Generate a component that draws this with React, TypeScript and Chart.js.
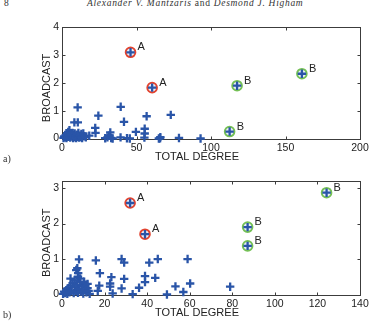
import React, { useEffect, useRef } from "react";
import { Chart, registerables } from "chart.js";
Chart.register(...registerables);

// ---------- data ----------
const xTicksA = [0, 50, 100, 150, 200];
const yTicksA = [0, 1, 2, 3, 4];
const xTicksB = [0, 20, 40, 60, 80, 100, 120, 140];
const yTicksB = [0, 1, 2, 3];

const groupA_a = [
  { x: 46, y: 3.1 },
  { x: 60.5, y: 1.83 },
];
const groupB_a = [
  { x: 117.5, y: 1.9 },
  { x: 161, y: 2.33 },
  { x: 112.5, y: 0.25 },
];
const others_a = [
  [1, 0.02], [1.5, 0.08], [2, 0.04], [2.5, 0.12], [3, 0.02], [3.5, 0.18], [4, 0.06], [4.2, 0.24],
  [4.8, 0.1], [5, 0.3], [5.5, 0.03], [6, 0.15], [6.5, 0.07], [7, 0.2], [7.5, 0.02], [7.6, 0.12],
  [8, 0.05], [8.5, 0.18], [9, 0.09], [9.5, 0.02], [10, 0.14], [10.5, 0.06], [11, 0.2], [11.5, 0.03],
  [12, 0.1], [12.5, 0.05], [13, 0.16], [13.5, 0.02], [14.3, 0.18], [15, 0.08], [16, 0.04], [18.3, 0.1],
  [8.3, 0.58], [10.6, 0.58], [10.5, 1.12], [24.4, 0.82], [22.3, 0.38], [22.5, 0.2], [39.4, 1.14],
  [41.6, 0.6], [56.8, 0.8], [55.5, 0.35], [55.5, 0.18], [49.6, 0.24], [73, 0.85], [78.5, 0.02],
  [65.8, 0.01], [66, 0.05], [55.3, 0.03], [43.6, 0.01], [45.5, 0.0], [39.3, 0.04], [32.4, 0.22],
  [31.6, 0.1], [29, 0.01], [30.5, 0.04], [33, 0.02], [93, 0.0], [34, 0.0], [65, 0.0],
];

const groupA_b = [
  { x: 32, y: 2.58 },
  { x: 39, y: 1.7 },
];
const groupB_b = [
  { x: 124.3, y: 2.87 },
  { x: 87.2, y: 1.9 },
  { x: 87.2, y: 1.37 },
];
const others_b = [
  [8, 0.99], [15.9, 0.96], [28, 1.0], [29.2, 0.9], [41, 0.9], [45, 1.0], [59, 1.0], [6.7, 0.69],
  [7.5, 0.5], [8.5, 0.45], [17.8, 0.6], [23.2, 0.49], [29.2, 0.44], [39, 0.52], [39, 0.35],
  [43.8, 0.47], [36.2, 0.19], [33.2, 0.01], [28, 0.17], [22.6, 0.31], [22.6, 0.22], [23.8, 0.03],
  [17.5, 0.25], [16.8, 0.1], [10.3, 0.3], [4, 0.45], [49.3, 0.0], [53.3, 0.23], [57, 0.07],
  [60.2, 0.31], [79, 0.22],
  [0.5, 0.02], [1, 0.08], [1.5, 0.04], [2, 0.12], [2.5, 0.02], [3, 0.18], [3.5, 0.06], [4, 0.25],
  [4.5, 0.1], [5, 0.32], [5.5, 0.04], [6, 0.2], [6.5, 0.1], [7, 0.28], [7.5, 0.05], [8, 0.15],
  [8.5, 0.35], [9, 0.08], [9.5, 0.22], [10, 0.03], [10.5, 0.14], [11, 0.25], [11.5, 0.06],
  [12, 0.18], [12.5, 0.1], [13, 0.02], [7.2, 0.74], [7.6, 0.6], [10.4, 0.36], [12, 0.3], [6, 0.4],
];

// ---------- styling ----------
const BLUE = "#2a55a8";
const RED = "#e2432f";
const GREEN = "#74c055";
const AXIS = "#3c3c3c";
const FONT = "'Liberation Sans', Arial, sans-serif";

const framePlugin = {
  id: "frame",
  beforeDatasetsDraw(chart: any, _args: any, opts: any) {
    const { ctx, chartArea: a, scales } = chart;
    const x = scales.x;
    const y = scales.y;
    ctx.save();
    ctx.strokeStyle = AXIS;
    ctx.lineWidth = 1;
    const L = Math.round(a.left) + 0.5;
    const R = Math.round(a.right) + 0.5;
    const T = Math.round(a.top) + 0.5;
    const B = Math.round(a.bottom) + 0.5;
    ctx.strokeRect(L, T, R - L, B - T);
    const tl = 3;
    ctx.beginPath();
    x.ticks.forEach((t: any) => {
      const px = Math.round(x.getPixelForValue(t.value)) + 0.5;
      ctx.moveTo(px, B);
      ctx.lineTo(px, B - tl);
      ctx.moveTo(px, T);
      ctx.lineTo(px, T + tl);
    });
    y.ticks.forEach((t: any) => {
      const py = Math.round(y.getPixelForValue(t.value)) + 0.5;
      ctx.moveTo(L, py);
      ctx.lineTo(L + tl, py);
      ctx.moveTo(R, py);
      ctx.lineTo(R - tl, py);
    });
    ctx.stroke();
    ctx.restore();
  },
  afterDatasetsDraw(chart: any, _args: any, opts: any) {
    const { ctx, chartArea: a } = chart;
    ctx.save();
    ctx.fillStyle = "#222";
    ctx.font = `11px ${FONT}`;
    ctx.textBaseline = "middle";
    ctx.textAlign = "left";
    chart.data.datasets.forEach((ds: any, i: number) => {
      if (!ds.tag) return;
      const meta = chart.getDatasetMeta(i);
      meta.data.forEach((el: any) => {
        ctx.fillText(ds.tag, el.x + 7, el.y - 5);
      });
    });
    // axis titles
    ctx.font = `11px ${FONT}`;
    ctx.textAlign = "center";
    ctx.fillText("TOTAL DEGREE", (a.left + a.right) / 2 + opts.xdx, a.bottom + opts.xdy);
    ctx.translate(opts.yx, (a.top + a.bottom) / 2 + opts.ydy);
    ctx.rotate(-Math.PI / 2);
    ctx.fillText("BROADCAST", 0, 0);
    ctx.restore();
  },
};

function makeConfig(
  others: number[][],
  gA: { x: number; y: number }[],
  gB: { x: number; y: number }[],
  xTicks: number[],
  yTicks: number[],
  pad: { top: number; right: number },
  xHeight: number,
  titles: any
): any {
  const all = [...others.map(([x, y]) => ({ x, y })), ...gA, ...gB];
  return {
    type: "scatter",
    data: {
      datasets: [
        {
          data: all,
          pointStyle: "cross",
          pointRadius: 4.2,
          pointBorderWidth: 2.3,
          borderColor: BLUE,
          backgroundColor: BLUE,
          clip: false,
          order: 0,
        },
        {
          tag: "A",
          data: gA,
          pointStyle: "circle",
          pointRadius: 4.8,
          pointBorderWidth: 2,
          borderColor: RED,
          backgroundColor: "#e9eef8",
          clip: false,
          order: 1,
        },
        {
          tag: "B",
          data: gB,
          pointStyle: "circle",
          pointRadius: 4.8,
          pointBorderWidth: 2,
          borderColor: GREEN,
          backgroundColor: "#e9eef8",
          clip: false,
          order: 1,
        },
      ],
    },
    options: {
      animation: false,
      responsive: false,
      devicePixelRatio: 1,
      layout: { padding: { left: 0, top: pad.top, right: pad.right, bottom: 0 } },
      plugins: {
        legend: { display: false },
        tooltip: { enabled: false },
        frame: titles,
      },
      scales: {
        x: {
          type: "linear",
          min: xTicks[0],
          max: xTicks[xTicks.length - 1],
          grid: { display: false, drawTicks: false },
          border: { display: false },
          afterBuildTicks: (s: any) => {
            s.ticks = xTicks.map((v) => ({ value: v }));
          },
          afterFit: (s: any) => {
            s.height = xHeight;
          },
          ticks: {
            padding: 3,
            color: "#222",
            font: { family: FONT, size: 10.5 },
            maxRotation: 0,
            autoSkip: false,
          },
        },
        y: {
          type: "linear",
          min: yTicks[0],
          max: titles.ymax,
          grid: { display: false, drawTicks: false },
          border: { display: false },
          afterBuildTicks: (s: any) => {
            s.ticks = yTicks.map((v) => ({ value: v }));
          },
          afterFit: (s: any) => {
            s.width = 62;
          },
          ticks: {
            padding: 3,
            color: "#222",
            font: { family: FONT, size: 10.5 },
            autoSkip: false,
          },
        },
      },
    },
    plugins: [framePlugin],
  };
}

function ChartCanvas({ config, width, height }: { config: any; width: number; height: number }) {
  const ref = useRef<HTMLCanvasElement | null>(null);
  useEffect(() => {
    if (!ref.current) return;
    const chart = new Chart(ref.current, config);
    return () => chart.destroy();
  }, [config]);
  return <canvas ref={ref} width={width} height={height} style={{ display: "block", width, height }} />;
}

const configA = makeConfig(others_a, groupA_a, groupB_a, xTicksA, yTicksA, { top: 8, right: 14 }, 26.5, {
  xdx: -14,
  xdy: 18,
  yx: 47,
  ydy: 5,
  ymax: 4,
});
const configB = makeConfig(others_b, groupA_b, groupB_b, xTicksB, yTicksB, { top: 11, right: 14 }, 30.5, {
  xdx: -14,
  xdy: 18,
  yx: 47,
  ydy: 5,
  ymax: 3.2,
});

export default function App() {
  const serif = "'Liberation Serif', 'DejaVu Serif', serif";
  return (
    <div
      style={{
        position: "fixed",
        left: 0,
        top: 0,
        width: 374,
        height: 325,
        background: "#fff",
        overflow: "hidden",
        fontFamily: serif,
        color: "#333",
      }}
    >
      <div style={{ position: "absolute", left: 4, top: -2, fontSize: 9.5, lineHeight: "10px" }}>8</div>
      <div
        style={{
          position: "absolute",
          left: 87,
          top: -2,
          fontSize: 9.5,
          lineHeight: "10px",
          whiteSpace: "nowrap",
          letterSpacing: "0.7px",
        }}
      >
        <i>Alexander V. Mantzaris</i> and <i>Desmond J. Higham</i>
      </div>
      <div style={{ position: "absolute", left: 0, top: 18 }}>
        <ChartCanvas config={configA} width={374} height={147} />
      </div>
      <div style={{ position: "absolute", left: 0, top: 170 }}>
        <ChartCanvas config={configB} width={374} height={155} />
      </div>
      <div style={{ position: "absolute", left: 3, top: 153, fontSize: 10, lineHeight: "12px" }}>a)</div>
      <div style={{ position: "absolute", left: 3, top: 309, fontSize: 10, lineHeight: "12px" }}>b)</div>
    </div>
  );
}
